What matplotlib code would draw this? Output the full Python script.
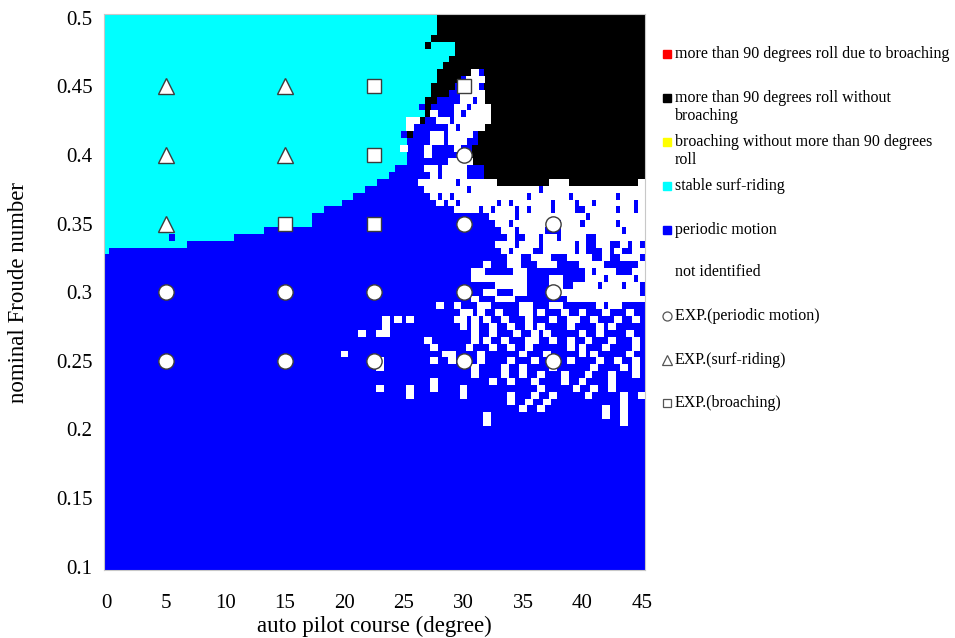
import numpy as np
import matplotlib
matplotlib.use("Agg")
import matplotlib.pyplot as plt
from matplotlib.colors import ListedColormap, BoundaryNorm
from matplotlib.patches import Rectangle
from matplotlib.collections import PatchCollection

plt.rcParams["font.family"] = ["Liberation Serif", "DejaVu Serif"]

# ---------------------------------------------------------------- categories
regime_colors = ["#ff0000", "#000000", "#ffff00", "#00ffff", "#0000ff", "#ffffff"]
regime_labels = [
    "more than 90 degrees roll due to broaching",
    "more than 90 degrees roll without\nbroaching",
    "broaching without more than 90 degrees\nroll",
    "stable surf-riding",
    "periodic motion",
    "not identified",
]
# letters used in the regime rows below
code_of = {"K": 1, "C": 3, "B": 4, "W": 5}

# ---------------------------------------------------------------- grid
course_values = np.arange(0, 45.001, 0.5)                # auto pilot course [deg]
fn_values = np.round(np.arange(0.1, 0.50001, 0.005), 4)  # nominal Froude number

# lowest Froude number of stable surf-riding, courses 0 .. 24.5 deg
surf_floor = [
    0.33, 0.335, 0.335, 0.335, 0.335, 0.335, 0.335, 0.335, 0.335, 0.335,
    0.335, 0.335, 0.335, 0.335, 0.34, 0.34, 0.34, 0.34, 0.34, 0.34,
    0.34, 0.34, 0.345, 0.345, 0.345, 0.345, 0.345, 0.35, 0.35, 0.35,
    0.35, 0.35, 0.35, 0.35, 0.35, 0.36, 0.36, 0.365, 0.365, 0.365,
    0.37, 0.37, 0.375, 0.375, 0.38, 0.38, 0.385, 0.385, 0.39, 0.395,
]

# regimes for courses 22.5 .. 45 deg, one row per Froude number from 0.5 down
# ('.' keeps the surf-riding / periodic split given by surf_floor)
rows_first_course = 22.5
regime_rows = [
    "CCCCC CCCCC CKKKK KKKKK KKKKK KKKKK KKKKK KKKKK KKKKK K",  # 0.500
    "CCCCC CCCCC CKKKK KKKKK KKKKK KKKKK KKKKK KKKKK KKKKK K",
    "CCCCC CCCCC CKKKK KKKKK KKKKK KKKKK KKKKK KKKKK KKKKK K",
    "CCCCC CCCCC KKKKK KKKKK KKKKK KKKKK KKKKK KKKKK KKKKK K",
    "CCCCC CCCCK CCCCK KKKKK KKKKK KKKKK KKKKK KKKKK KKKKK K",
    "CCCCC CCCCC CCCCK KKKKK KKKKK KKKKK KKKKK KKKKK KKKKK K",  # 0.475
    "CCCCC CCCCC CCCKK KKKKK KKKKK KKKKK KKKKK KKKKK KKKKK K",
    "CCCCC CCCCC CCKKK KKKKK KKKKK KKKKK KKKKK KKKKK KKKKK K",
    "CCCCC CCCCC CKKKK KKWBK KKKKK KKKKK KKKKK KKKKK KKKKK K",
    "CCCCC CCCCC CKKKK BWWWK KKKKK KKKKK KKKKK KKKKK KKKKK K",
    "CCCCC CCCCC KKKKB BWWBK KKKKK KKKKK KKKKK KKKKK KKKKK K",  # 0.450
    "CCCCC CCCCC KKKBB WWWWK KKKKK KKKKK KKKKK KKKKK KKKKK K",
    "..... CCCCK KBBBB WWBWK KKKKK KKKKK KKKKK KKKKK KKKKK K",
    "..... CCCBK BBBBW WBWWW KKKKK KKKKK KKKKK KKKKK KKKKK K",
    "..... CCCCK WBBBW BWWWW KKKKK KKKKK KKKKK KKKKK KKKKK K",
    "..... CWWKB BWWBW WWWWW KKKKK KKKKK KKKKK KKKKK KKKKK K",  # 0.425
    "..... CWBBB BBBWB WWWWK KKKKK KKKKK KKKKK KKKKK KKKKK K",
    "..... BKBBB WWBWW WWBKK KKKKK KKKKK KKKKK KKKKK KKKKK K",
    "..... CBBBB WWBWW WBBKK KKKKK KKKKK KKKKK KKKKK KKKKK K",
    "..... WBBBW BBBBW BBKKK KKKKK KKKKK KKKKK KKKKK KKKKK K",
    "..... CBBBW BBBBB BBKKK KKKKK KKKKK KKKKK KKKKK KKKKK K",  # 0.400
    "..... CBBBB BBBWW WWKKK KKKKK KKKKK KKKKK KKKKK KKKKK K",
    "..... BBBBW WBWWW WBBBK KKKKK KKKKK KKKKK KKKKK KKKKK K",
    "..... BBBBB WBWWW WBBBK KKKKK KKKKK KKKKK KKKKK KKKKK K",
    "..... BBBWW WWWWB WWWWW WKKKK KKKKK WWWKK KKKKK KKKKK W",
    "BBBBB BBBBW WWWWW WBWWW WWWWW WWWBW WWWWW WWWWW WWWWW W",  # 0.375
    "BBBBB BBBBB WBWBW WWWWW WWWWW WBWWW WWWBW WWWWW WBWWW W",
    "BBBBB BBBBB BWBWB WWWWW WBWBW WWWWW BWWWB WWBWW WWWWB W",
    "BBBBB BBBBB BBBBW WWWBW BWWWB WBWWW BWWWB BWWWW WBWWB W",
    "BBBBB BBBBB BBBBB BBBBB WWWWB WWWWW WWWWW WBWWW WWWWW W",
    "BBBBB BBBBB BBBBB BBBBB BWWBW WWWWW WBWWW BWWWW WBWWW W",  # 0.350
    "BBBBB BBBBB BBBBB BBBBB BBWWB WWWWB BBWWW WWWWW WWBWW W",
    "BBBBB BBBBB BBBBB BBBBB BBBWB BWWBW WBWWW WBBWW WWWWW W",
    "BBBBB BBBBB BBBBB BBBBB BWWWB WWWBW WWWWB WBBWW BBWBW B",
    "BBBBB BBBBB BBBBB BBBBB BBWBW WWBBW WWWWB WBBBW BWBBW W",
    "BBBBB BBBBB BBBBB BBBBB BBBWW BBWWW BBBWW WWBBW BBWWW B",  # 0.325
    "BBBBB BBBBB BBBBB BBBBW BBBWW BBBWW WBBBB WWWWB BBBBB W",
    "BBBBB BBBBB BBBBB BBWWB BBBBW WBBBB BBBBB BWBWW WBBBW W",
    "BBBBB BBBBB BBBBB BBWWW WWWWW WBBBB WWBBB BWWWB WWWWB W",
    "BBBBB BBBBB BBBBB BBBBB BWWWW WBBBB WWBBW WWWBW WWBWW B",
    "BBBBB BBBBB BBBBB BBBBW WBBBW WBBBB WWWWW WWWWW WWWWW B",  # 0.300
    "BBBBB BBBBB BBBBB BBWBB BWWWB BBBBB BBBWW WWWWW WWWWW W",
    "BBBBB BBBBB BWBBW BBBWW BBBBB WWBBB WWBBB BBBWB WWBBB B",
    "BBBBB BBBBB BBBBB WWBWB BWBBB WWBWB BBWBB WBBBW BBBWB B",
    "BBWBW BWBBB BBBBW WBWBW BBWBB BWBBB WBBWW BBWBB BWBBW B",
    "BBWBB BBBBB BBBBB WBWBB WBBWB BWBWB BBBWB BBBWB WBBBB B",  # 0.275
    "BWWBB BBBBB BBBBB BBWBB WBBBW BBWBW BBBBB WBBWB BBBWB B",
    "BBBBB BBBBW BBBBB BBWBW BBWBB BWWBB WBBWB BWBBB WBBBW B",
    "BBBBB BBBBB WBBBB BWBBB WBBWB BWBBB BBBWB WBBBW BBBBW B",
    "BBBBB BBBBB BBWWB BBBWB BBBBB WBBBW BBBBB WBWBB BBBWB B",
    "BWBBB BBBBB WBBWB BBBWB BBBWB BBWBB BBBWB BBBWB BWBBW B",  # 0.250
    "BWBBB BBBBB BBBBB BBWBB BBWBB WBBBB WBBBB BBWBB BBWBW B",
    "BBBBB BBBBB BBBBB BBWBB BBWBB WBBWB BBWBB BWBBB WBBBW B",
    "BBBBB BBBBB WBBBB BBBBB WBBWB BBWBB BBWBB WBBBB WBBBB B",
    "BWBBB BWBBB WBBBB WBBBB BBBBB BBBWB BBBBW BBWBB WBBBB B",
    "BBBBB BWBBB BBBBB WBBBB BBBWB BBWBB WBBBB BWBBB BBWBB W",  # 0.225
    "BBBBB BBBBB BBBBB BBBBB BBBWB BWBBW BBBBB BBBBB BBWBB B",
    "BBBBB BBBBB BBBBB BBBBB BBBBB WBBWB BBBBB BBBBW BBWBB B",
    "BBBBB BBBBB BBBBB BBBBW BBBBB BBBBB BBBBB BBBBW BBWBB B",
    "BBBBB BBBBB BBBBB BBBBW BBBBB BBBBB BBBBB BBBBB BBWBB B",  # 0.205
]

# single cells away from the rows above: (course, Froude number)
periodic_cells = [(5.5, 0.34)]
unidentified_cells = [(20.0, 0.255), (21.5, 0.27)]

# experiments
exp_periodic_course = [5, 5, 15, 15, 22.5, 22.5, 30, 30, 30, 30, 37.5, 37.5, 37.5]
exp_periodic_fn = [0.30, 0.25, 0.30, 0.25, 0.30, 0.25, 0.40, 0.35, 0.30, 0.25, 0.35, 0.30, 0.25]
exp_surf_course = [5, 5, 5, 15, 15]
exp_surf_fn = [0.45, 0.40, 0.35, 0.45, 0.40]
exp_broach_course = [22.5, 22.5, 22.5, 15, 30]
exp_broach_fn = [0.45, 0.40, 0.35, 0.35, 0.45]

x_ticks = [0, 5, 10, 15, 20, 25, 30, 35, 40, 45]
y_ticks = [0.1, 0.15, 0.2, 0.25, 0.3, 0.35, 0.4, 0.45, 0.5]
y_tick_labels = ["0.1", "0.15", "0.2", "0.25", "0.3", "0.35", "0.4", "0.45", "0.5"]

# ---------------------------------------------------------------- regime map
n_fn, n_course = len(fn_values), len(course_values)
codes = np.full((n_fn, n_course), code_of["B"])
for col, floor in enumerate(surf_floor):
    codes[fn_values >= floor - 1e-9, col] = code_of["C"]

first_col = int(round(rows_first_course / 0.5))
for r, row in enumerate(regime_rows):
    cells = "".join(row.split())
    i = n_fn - 1 - r
    for k, ch in enumerate(cells):
        if ch in code_of and first_col + k < n_course:
            codes[i, first_col + k] = code_of[ch]


def cell_index(course, fn):
    return int(round((fn - 0.1) / 0.005)), int(round(course / 0.5))


for course, fn in periodic_cells:
    codes[cell_index(course, fn)] = code_of["B"]
for course, fn in unidentified_cells:
    codes[cell_index(course, fn)] = code_of["W"]

x_edges = np.append(course_values - 0.25, course_values[-1] + 0.25)
y_edges = np.append(fn_values - 0.0025, fn_values[-1] + 0.0025)

# ---------------------------------------------------------------- figure
W, H = 955, 638
fig = plt.figure(figsize=(W / 100, H / 100), dpi=100)
ax_left, ax_right, ax_top, ax_bottom = 103.5, 645.0, 14.4, 570.0
ax = fig.add_axes([ax_left / W, 1 - ax_bottom / H,
                   (ax_right - ax_left) / W, (ax_bottom - ax_top) / H])

cmap = ListedColormap(regime_colors)
norm = BoundaryNorm(np.arange(-0.5, len(regime_colors) + 0.5, 1), len(regime_colors))
ax.pcolormesh(x_edges, y_edges, codes, cmap=cmap, norm=norm,
              shading="flat", antialiased=False, linewidth=0)

# unidentified cells are drawn a little wider, over their neighbours
wi, wj = np.nonzero(codes == code_of["W"])
marker_w = 0.66
white_boxes = [Rectangle((course_values[j] - marker_w / 2, fn_values[i] - 0.0025),
                         marker_w, 0.005) for i, j in zip(wi, wj)]
ax.add_collection(PatchCollection(white_boxes, facecolor="white", edgecolor="none",
                                  antialiased=False, zorder=2))

mk = dict(ls="none", mfc="white", mec="#3c3c3c", mew=1.0, zorder=5, clip_on=False)
ax.plot(exp_periodic_course, exp_periodic_fn, "o", ms=11, **mk)
ax.plot(exp_surf_course, exp_surf_fn, "^", ms=11, **mk)
ax.plot(exp_broach_course, exp_broach_fn, "s", ms=10.5, **mk)

ax.set_xlim(x_edges[0], x_edges[-1])
ax.set_ylim(y_edges[0], y_edges[-1])
ax.set_xticks(x_ticks)
ax.set_xticklabels([str(v) for v in x_ticks])
ax.set_yticks(y_ticks)
ax.set_yticklabels(y_tick_labels)
ax.tick_params(axis="both", length=0, labelsize=15, colors="black")
ax.tick_params(axis="x", pad=17)
ax.tick_params(axis="y", pad=8)
for s in ax.spines.values():
    s.set_color("#c8c8c8")
    s.set_linewidth(0.8)
    s.set_zorder(6)

ax.set_xlabel("auto pilot course (degree)", fontsize=16.5)
ax.xaxis.set_label_coords(0.5, -0.083)
ax.set_ylabel("nominal Froude number", fontsize=16.5)
ax.yaxis.set_label_coords(-0.138, 0.5)

# ---------------------------------------------------------------- legend
lax = fig.add_axes([0, 0, 1, 1])
lax.set_xlim(0, W)
lax.set_ylim(H, 0)
lax.axis("off")
lax.patch.set_alpha(0)

swatch_x, text_x = 667, 675
entry_y = [54, 98, 142, 186, 230, 272]
line_gap = 18
for color, label, y in zip(regime_colors, regime_labels, entry_y):
    if color.lower() != "#ffffff":
        lax.plot(swatch_x, y, "s", ms=5.5, color=color, mec=color)
    for j, line in enumerate(label.split("\n")):
        lax.text(text_x, y + j * line_gap, line, fontsize=11.5,
                 va="center", ha="left", color="black")

exp_entries = [("o", 6.5, "EXP.(periodic motion)", 316),
               ("^", 6.5, "EXP.(surf-riding)", 360),
               ("s", 6.0, "EXP.(broaching)", 403)]
for marker, size, label, y in exp_entries:
    lax.plot(swatch_x, y, marker, ms=size, mfc="white", mec="#555555", mew=0.9)
    lax.text(text_x, y, label, fontsize=11.5, va="center", ha="left", color="black")

fig.savefig("out.png", dpi=100)
